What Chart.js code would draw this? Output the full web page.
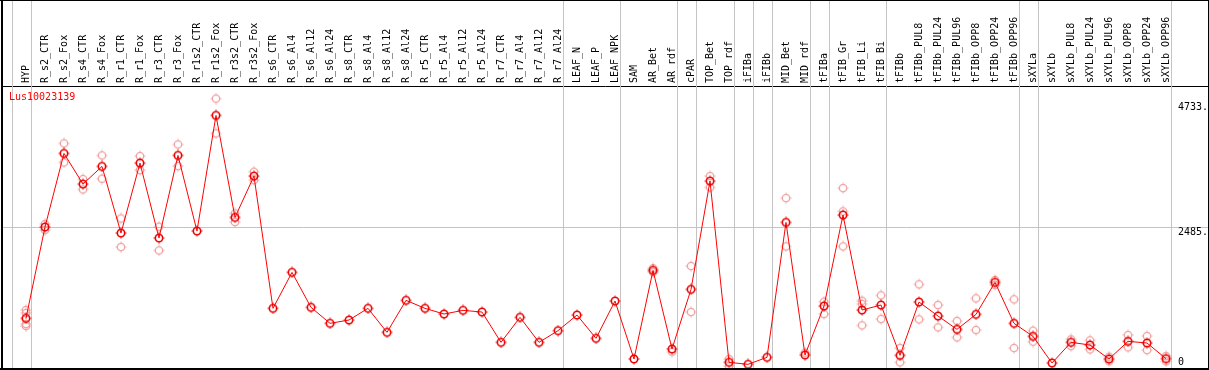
<!DOCTYPE html>
<html>
<head>
<meta charset="utf-8">
<script src="https://cdn.jsdelivr.net/npm/chart.js@4/dist/chart.umd.min.js"></script>
<style>
html, body { margin: 0; padding: 0; background: #fff; }
</style>
</head>
<body>
<canvas id="chart" width="1209" height="370"></canvas>
<script>
// Expression profile data
const categories = ['HYP', 'R_s2_CTR', 'R_s2_Fox', 'R_s4_CTR', 'R_s4_Fox', 'R_r1_CTR', 'R_r1_Fox',
    'R_r3_CTR', 'R_r3_Fox', 'R_r1s2_CTR', 'R_r1s2_Fox', 'R_r3s2_CTR', 'R_r3s2_Fox',
    'R_s6_CTR', 'R_s6_Al4', 'R_s6_Al12', 'R_s6_Al24', 'R_s8_CTR', 'R_s8_Al4', 'R_s8_Al12', 'R_s8_Al24',
    'R_r5_CTR', 'R_r5_Al4', 'R_r5_Al12', 'R_r5_Al24', 'R_r7_CTR', 'R_r7_Al4', 'R_r7_Al12', 'R_r7_Al24',
    'LEAF_N', 'LEAF_P', 'LEAF_NPK', 'SAM', 'AR_Bet', 'AR_rdf', 'cPAR', 'TOP_Bet', 'TOP_rdf',
    'iFIBa', 'iFIBb', 'MID_Bet', 'MID_rdf', 'tFIBa', 'tFIB_Gr', 'tFIB_Li', 'tFIB_Bi', 'tFIBb',
    'tFIBb_PUL8', 'tFIBb_PUL24', 'tFIBb_PUL96', 'tFIBb_OPP8', 'tFIBb_OPP24', 'tFIBb_OPP96',
    'sXYLa', 'sXYLb', 'sXYLb_PUL8', 'sXYLb_PUL24', 'sXYLb_PUL96', 'sXYLb_OPP8', 'sXYLb_OPP24', 'sXYLb_OPP96'];

const meanValues = [858, 2502, 3828, 3276, 3594, 2394, 3654, 2304, 3792, 2430, 4512, 2676, 3420,
    1038, 1686, 1056, 768, 828, 1038, 606, 1182, 1038, 936, 1002, 972, 426, 876, 426, 636,
    918, 498, 1170, 126, 1722, 306, 1380, 3330, 66, 30, 156, 2586, 198, 1080, 2718, 1008, 1098, 192,
    1152, 900, 660, 930, 1506, 768, 534, 54, 426, 378, 126, 444, 414, 132];

// replicate measurements (null where hidden behind the mean marker)
const rep1 = [1008, 2556, 4008, 3366, 3792, 2658, 3780, 2508, 3990, null, 4815, 2748, 3498,
    null, null, null, null, null, null, null, null, null, null, null, null, null, null, null, null,
    null, null, null, null, 1760, 258, 1800, 3420, 126, null, null, 3024, 240, 1158, 3204, 1176, 1272, 324,
    1470, 1098, 810, 1218, 1548, 1200, 636, null, 480, 462, 168, 558, 540, 180];
const rep2 = [954, 2448, 3666, 3180, 3372, 2142, 3528, 2082, 3600, null, 4188, 2592, 3348,
    null, null, null, null, null, null, null, null, null, null, null, null, null, null, null, null,
    null, null, null, null, 1690, null, 972, 3216, 0, null, null, 2154, null, 936, 2784, 1116, 846, 66,
    840, 696, 516, 648, 1458, 324, 438, null, 360, 300, 84, 336, 288, 84];
const rep3 = [756, null, null, null, null, null, null, null, null, null, null, null, null,
    null, null, null, null, null, null, null, null, null, null, null, null, null, null, null, null,
    null, null, null, null, null, null, null, null, null, null, null, null, null, null, 2154, 732, null, null,
    null, null, null, null, null, null, null, null, null, null, null, null, null, null];
const rep4 = [720];

const yTickValues = [0, 2485, 4733];
const yTickLabels = ['0', '2485.', '4733.'];

// indices after which a vertical separator is drawn
const groupEnds = [-1, 0, 28, 31, 34, 35, 37, 38, 39, 41, 42, 45, 52, 53, 60];

const geneName = 'Lus10023139';

const FONT = '10px "DejaVu Sans Mono", monospace';

function toPoints(values) {
    const pts = [];
    values.forEach(function (v, i) {
        if (v !== null && v !== undefined) pts.push({ x: i, y: v });
    });
    return pts;
}

// small circle marker with tick marks, like the original plot
function makeMarker(color, lw) {
    const c = document.createElement('canvas');
    c.width = 12;
    c.height = 12;
    const g = c.getContext('2d');
    g.strokeStyle = color;
    g.lineWidth = lw;
    g.beginPath();
    g.arc(6, 6, 3.7, 0, Math.PI * 2);
    g.stroke();
    g.lineWidth = 1;
    g.beginPath();
    g.moveTo(6, 0.5); g.lineTo(6, 1.8);
    g.moveTo(6, 10.2); g.lineTo(6, 11.5);
    g.moveTo(0.5, 6); g.lineTo(1.8, 6);
    g.moveTo(10.2, 6); g.lineTo(11.5, 6);
    g.stroke();
    return c;
}

const meanMarker = makeMarker('#e80000', 1.6);
const repMarker = makeMarker('#f0a0a0', 1.3);

// frame, separators, gene name and right-hand value labels
const decorPlugin = {
    id: 'decor',
    beforeDatasetsDraw(chart) {
        const ctx = chart.ctx;
        const xs = chart.scales.x;
        const area = chart.chartArea;
        ctx.save();
        ctx.strokeStyle = '#c4c4c4';
        ctx.lineWidth = 1;
        groupEnds.forEach(function (i) {
            const px = Math.round(xs.getPixelForValue(i + 0.24)) + 0.5;
            ctx.beginPath();
            ctx.moveTo(px, 0);
            ctx.lineTo(px, area.bottom);
            ctx.stroke();
        });
        ctx.restore();
    },
    afterDraw(chart) {
        const ctx = chart.ctx;
        const ys = chart.scales.y;
        const area = chart.chartArea;
        ctx.save();
        ctx.font = FONT;
        ctx.fillStyle = '#ff0000';
        ctx.textBaseline = 'middle';
        ctx.textAlign = 'left';
        ctx.fillText(geneName, 9, area.top + 11);

        ctx.fillStyle = '#000';
        yTickValues.forEach(function (v, i) {
            const py = Math.min(ys.getPixelForValue(v) + 4, area.bottom - 6);
            ctx.fillText(yTickLabels[i], 1178, py);
        });

        ctx.fillRect(0, 0, chart.width, 1);
        ctx.fillRect(1, 0, 2, chart.height);
        ctx.fillRect(0, chart.height - 2, chart.width, 2);
        ctx.fillRect(chart.width - 1, 0, 1, chart.height);
        ctx.restore();
    }
};

const replicateSets = [rep1, rep2, rep3, rep4].map(function (r) {
    return {
        data: toPoints(r),
        showLine: false,
        pointStyle: repMarker,
        pointRadius: 4,
        order: 2
    };
});

new Chart(document.getElementById('chart'), {
    type: 'scatter',
    data: {
        datasets: [{
            data: toPoints(meanValues),
            showLine: true,
            borderColor: '#ff0000',
            borderWidth: 1,
            tension: 0,
            pointStyle: meanMarker,
            pointRadius: 4,
            order: 1
        }].concat(replicateSets)
    },
    options: {
        responsive: false,
        animation: false,
        events: [],
        layout: { autoPadding: false, padding: { left: 2, right: 1, top: 0, bottom: 2 } },
        plugins: {
            legend: { display: false },
            title: { display: false },
            tooltip: { enabled: false }
        },
        scales: {
            x: {
                type: 'linear',
                position: 'top',
                min: -1.263,
                max: 62.21,
                afterBuildTicks: function (scale) {
                    scale.ticks = categories.map(function (c, i) { return { value: i }; });
                },
                afterFit: function (scale) {
                    scale.height = 86;
                },
                grid: { display: false, drawTicks: false },
                border: { display: true, color: '#000', width: 1 },
                ticks: {
                    autoSkip: false,
                    minRotation: 90,
                    maxRotation: 90,
                    padding: 3,
                    labelOffset: 12,
                    color: '#000',
                    font: { family: '"DejaVu Sans Mono", monospace', size: 10 },
                    callback: function (value) { return categories[value]; }
                }
            },
            y: {
                type: 'linear',
                position: 'right',
                min: -36,
                max: 5042,
                afterBuildTicks: function (scale) {
                    scale.ticks = yTickValues.map(function (v) { return { value: v }; });
                },
                grid: {
                    drawTicks: false,
                    color: function (ctx) {
                        return ctx.tick && ctx.tick.value === 2485 ? '#c4c4c4' : 'rgba(0,0,0,0)';
                    }
                },
                border: { display: false },
                ticks: { display: false }
            }
        }
    },
    plugins: [decorPlugin]
});
</script>
</body>
</html>
